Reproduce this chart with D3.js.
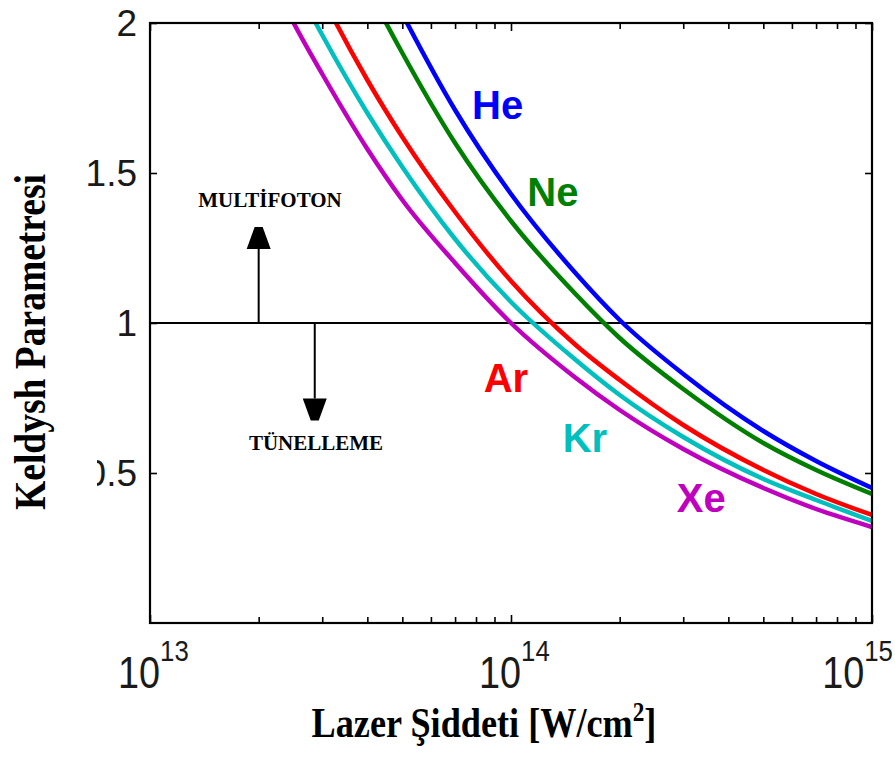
<!DOCTYPE html>
<html>
<head>
<meta charset="utf-8">
<script src="https://cdn.jsdelivr.net/npm/d3@7"></script>
<style>
  body { margin: 0; background: #fff; }
  svg { display: block; }
</style>
</head>
<body>
<div id="chart"></div>
<script>
// Laser intensity grid (W/cm^2)
const intensity = [2e13, 2.5e13, 3e13, 4e13, 5e13, 7e13, 1e14, 1.5e14, 2e14, 3e14, 5e14, 7e14, 1e15];

// Keldysh parameter of each gas at those intensities
const gasNames = ['He', 'Ne', 'Ar', 'Kr', 'Xe'];
const heValues = [3.20, 2.86, 2.61, 2.26, 2.03, 1.71, 1.43, 1.17, 1.01, 0.83, 0.64, 0.54, 0.45];
const neValues = [3.00, 2.68, 2.45, 2.12, 1.90, 1.60, 1.34, 1.10, 0.95, 0.78, 0.60, 0.51, 0.43];
const arValues = [2.56, 2.29, 2.09, 1.81, 1.62, 1.37, 1.14, 0.93, 0.81, 0.66, 0.51, 0.43, 0.36];
const krValues = [2.40, 2.14, 1.96, 1.70, 1.52, 1.28, 1.07, 0.88, 0.76, 0.62, 0.48, 0.41, 0.34];
const xeValues = [2.24, 2.00, 1.83, 1.58, 1.41, 1.20, 1.00, 0.82, 0.71, 0.58, 0.45, 0.38, 0.32];

// where the gas names sit (intensity, gamma)
const labelIntensity = [7.8e13, 1.11e14, 8.4e13, 1.39e14, 2.88e14];
const labelGamma = [1.68, 1.39, 0.77, 0.57, 0.37];

// tick values
const xMajorTicks = [1e13, 1e14, 1e15];
const xTickExponents = ['13', '14', '15'];
const yTicks = [0.5, 1, 1.5, 2];
const yTickLabels = ['0.5', '1', '1.5', '2'];

// regime arrows (intensity, gamma tip)
const upArrow = { at: 2e13, tip: 1.32 };
const downArrow = { at: 2.86e13, tip: 0.675 };

const colors = ['#0000ff', '#008000', '#ff0000', '#00bfbf', '#bf00bf'];

const width = 895;
const height = 764;
const plot = { left: 150, right: 872, top: 23, bottom: 623 };

const svg = d3.select('#chart')
  .append('svg')
  .attr('width', width)
  .attr('height', height);

const xScale = d3.scaleLog()
  .domain([1e13, 1e15])
  .range([plot.left, plot.right]);

const yScale = d3.scaleLinear()
  .domain([0, 2])
  .range([plot.bottom, plot.top]);

// squeeze factor so that a text ends up `target` px wide
function fitWidth(sel, target) {
  const w = sel.node().getBBox().width;
  return target / w;
}

// clip for the curves
svg.append('clipPath')
  .attr('id', 'plot-clip')
  .append('rect')
  .attr('x', plot.left)
  .attr('y', plot.top)
  .attr('width', plot.right - plot.left)
  .attr('height', plot.bottom - plot.top);

// gamma = 1 line
svg.append('line')
  .attr('x1', plot.left)
  .attr('x2', plot.right)
  .attr('y1', yScale(1))
  .attr('y2', yScale(1))
  .attr('stroke', '#000')
  .attr('stroke-width', 2);

// curves
const series = [heValues, neValues, arValues, krValues, xeValues];
const line = d3.line()
  .x((d, i) => xScale(intensity[i]))
  .y(d => yScale(d))
  .curve(d3.curveMonotoneX);

svg.append('g')
  .attr('clip-path', 'url(#plot-clip)')
  .selectAll('path')
  .data(series)
  .join('path')
  .attr('fill', 'none')
  .attr('stroke', (d, i) => colors[i])
  .attr('stroke-width', 4.5)
  .attr('d', line);

// gas labels
svg.selectAll('.gas-label')
  .data(gasNames)
  .join('text')
  .attr('class', 'gas-label')
  .attr('x', (d, i) => xScale(labelIntensity[i]))
  .attr('y', (d, i) => yScale(labelGamma[i]))
  .attr('fill', (d, i) => colors[i])
  .style('font-family', 'Liberation Sans, Arial, sans-serif')
  .style('font-weight', 'bold')
  .style('font-size', '40px')
  .text(d => d);

// axes box (ticks point inward, like MATLAB)
const axisColor = '#000';
const minorTicks = [];
[1e13, 1e14].forEach(base => {
  for (let k = 2; k <= 9; k++) minorTicks.push(base * k);
});

const axes = [
  [d3.axisBottom(xScale).tickValues(xMajorTicks).tickSizeInner(-8), `translate(0,${plot.bottom})`],
  [d3.axisBottom(xScale).tickValues(minorTicks).tickSizeInner(-6), `translate(0,${plot.bottom})`],
  [d3.axisTop(xScale).tickValues(xMajorTicks).tickSizeInner(-8), `translate(0,${plot.top})`],
  [d3.axisTop(xScale).tickValues(minorTicks).tickSizeInner(-6), `translate(0,${plot.top})`],
  [d3.axisLeft(yScale).tickValues(yTicks).tickSizeInner(-7), `translate(${plot.left},0)`],
  [d3.axisRight(yScale).tickValues(yTicks).tickSizeInner(-7), `translate(${plot.right},0)`]
];
axes.forEach(([axis, tr]) => {
  const g = svg.append('g').attr('transform', tr).call(axis.tickSizeOuter(0).tickFormat(''));
  g.select('.domain').remove();
  g.selectAll('.tick line').attr('stroke', axisColor).attr('stroke-width', 1.6);
});

svg.append('rect')
  .attr('x', plot.left)
  .attr('y', plot.top)
  .attr('width', plot.right - plot.left)
  .attr('height', plot.bottom - plot.top)
  .attr('fill', 'none')
  .attr('stroke', axisColor)
  .attr('stroke-width', 2.2);

// y tick labels
svg.selectAll('.y-label')
  .data(yTicks)
  .join('text')
  .attr('class', 'y-label')
  .attr('x', plot.left - 13)
  .attr('y', d => yScale(d))
  .attr('dy', '0.36em')
  .attr('text-anchor', 'end')
  .attr('fill', '#1a1a1a')
  .style('font-family', 'Liberation Sans, Arial, sans-serif')
  .style('font-size', '37px')
  .text((d, i) => yTickLabels[i]);

// x tick labels 10^n
svg.selectAll('.x-label')
  .data(xMajorTicks)
  .join('text')
  .attr('class', 'x-label')
  .attr('fill', '#1a1a1a')
  .style('font-family', 'Liberation Sans, Arial, sans-serif')
  .style('font-size', '44px')
  .each(function (d, i) {
    const t = d3.select(this);
    t.append('tspan').text('10');
    t.append('tspan')
      .attr('dy', -27)
      .style('font-size', '30px')
      .text(xTickExponents[i]);
    const sx = 0.86;
    const w = this.getBBox().width * sx;
    const x0 = Math.min(xScale(d) - 32, width - 2 - w);
    t.attr('transform', `translate(${x0},688) scale(${sx},1)`);
  });

// white boxes pasted behind the y title; the lower one eats most of the "0" of 0.5
svg.append('rect')
  .attr('x', 0).attr('y', 133)
  .attr('width', 86).attr('height', 390)
  .attr('fill', '#fff');
svg.append('rect')
  .attr('x', 0).attr('y', yScale(0.5) - 25)
  .attr('width', 97).attr('height', 50)
  .attr('fill', '#fff');

// axis titles
const yTitle = svg.append('text')
  .attr('text-anchor', 'middle')
  .style('font-family', 'Liberation Serif, Times New Roman, serif')
  .style('font-weight', 'bold')
  .style('font-size', '44px')
  .text('Keldysh Parametresi');
yTitle.attr('transform', `translate(45,342) rotate(-90) scale(${fitWidth(yTitle, 336)},1)`);

const xTitle = svg.append('text')
  .attr('text-anchor', 'middle')
  .style('font-family', 'Liberation Serif, Times New Roman, serif')
  .style('font-weight', 'bold')
  .style('font-size', '42px');
xTitle.append('tspan').text('Lazer Şiddeti [W/cm');
xTitle.append('tspan').attr('dy', -16).style('font-size', '27px').text('2');
xTitle.append('tspan').attr('dy', 16).text(']');
xTitle.attr('transform', `translate(484,737) scale(${fitWidth(xTitle, 345)},1)`);

// regime arrows
function arrow(at, tip, up) {
  const x = xScale(at);
  const y0 = yScale(1);
  const yt = yScale(tip);
  const dir = up ? 1 : -1;
  const yb = yt + dir * 22;
  svg.append('line')
    .attr('x1', x).attr('x2', x)
    .attr('y1', y0).attr('y2', yb)
    .attr('stroke', '#000')
    .attr('stroke-width', 2);
  svg.append('path')
    .attr('d', `M${x - 4},${yt} L${x + 4},${yt} L${x + 12},${yb} L${x - 12},${yb} Z`)
    .attr('fill', '#000');
}
arrow(upArrow.at, upArrow.tip, true);
arrow(downArrow.at, downArrow.tip, false);

svg.append('text')
  .attr('x', 270)
  .attr('y', 207)
  .attr('text-anchor', 'middle')
  .style('font-family', 'Liberation Serif, Times New Roman, serif')
  .style('font-weight', 'bold')
  .style('font-size', '21px')
  .text('MULTİFOTON');

svg.append('text')
  .attr('x', 316)
  .attr('y', 450)
  .attr('text-anchor', 'middle')
  .style('font-family', 'Liberation Serif, Times New Roman, serif')
  .style('font-weight', 'bold')
  .style('font-size', '21px')
  .text('TÜNELLEME');
</script>
</body>
</html>
